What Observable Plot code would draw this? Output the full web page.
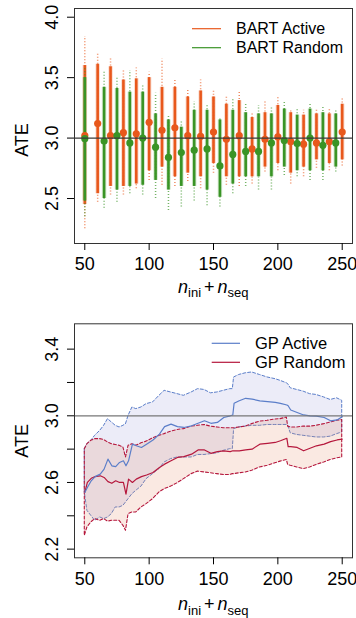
<!DOCTYPE html>
<html><head><meta charset="utf-8">
<script src="https://cdn.jsdelivr.net/npm/d3@7"></script>
<script src="https://cdn.jsdelivr.net/npm/@observablehq/plot@0.6"></script>
<style>
body{margin:0;background:#fff;width:356px;height:618px;overflow:hidden}
#chart svg{display:block}
</style></head><body><div id="chart"></div>
<script>
// ---------- Top panel: BART ----------
const xTicks = [50, 100, 150, 200, 250];
const yTicksTop = [2.5, 3.0, 3.5, 4.0];
const bartActiveX = [50,60,70,80,90,100,110,120,130,140,150,160,170,180,190,200,210,220,230,240,250];
const bartActiveMean = [3.02,3.12,3.02,3.045,3.035,3.13,3.065,3.085,3.02,3.015,3.05,2.99,3.02,2.91,2.99,3.01,2.97,2.95,2.96,2.97,3.05];
const bartActiveTailHi = [3.84,3.71,3.655,3.57,3.58,3.545,3.655,3.48,3.40,3.48,3.39,3.34,3.39,3.21,3.30,3.34,3.24,3.23,3.24,3.24,3.325];
const bartActiveCoreHi = [3.60,3.61,3.59,3.48,3.49,3.50,3.42,3.42,3.34,3.39,3.34,3.28,3.31,3.17,3.21,3.27,3.21,3.19,3.20,3.20,3.28];
const bartActiveCoreLo = [2.45,2.54,2.60,2.60,2.62,2.73,2.76,2.68,2.71,2.68,2.79,2.68,2.68,2.68,2.76,2.79,2.71,2.76,2.82,2.79,2.82];
const bartActiveTailLo = [2.25,2.47,2.53,2.53,2.58,2.65,2.61,2.60,2.64,2.58,2.71,2.61,2.60,2.62,2.72,2.73,2.62,2.68,2.75,2.73,2.77];

const bartRandomX = [50,65,75,85,95,105,115,125,135,145,155,165,175,185,195,205,215,225,235,245];
const bartRandomMean = [2.995,2.975,3.02,2.96,3.00,2.925,2.84,2.88,2.90,2.91,2.77,2.865,2.89,2.89,2.96,2.98,2.955,3.00,2.94,2.96];
const bartRandomTailHi = [3.59,3.545,3.50,3.56,3.435,3.37,3.19,3.15,3.30,3.28,3.17,3.325,3.28,3.27,3.26,3.31,3.24,3.28,3.26,3.23];
const bartRandomCoreHi = [3.50,3.42,3.41,3.38,3.38,3.20,3.15,3.09,3.23,3.23,3.15,3.23,3.21,3.20,3.20,3.24,3.19,3.24,3.21,3.20];
const bartRandomCoreLo = [2.48,2.50,2.57,2.60,2.61,2.65,2.57,2.60,2.60,2.57,2.51,2.62,2.68,2.68,2.68,2.76,2.73,2.73,2.73,2.76];
const bartRandomTailLo = [2.35,2.42,2.47,2.54,2.53,2.50,2.40,2.43,2.48,2.44,2.43,2.54,2.60,2.57,2.57,2.69,2.68,2.65,2.65,2.72];

// ---------- Bottom panel: GP ----------
const yTicksBottom = [2.2, 2.4, 2.6, 2.8, 3.0, 3.2, 3.4];
const yLabelsBottom = [2.2, 2.6, 3.0, 3.4];
const gpX = [50,52,55,58,62,65,68,71,74,77,80,82,84,87,90,94,98,103,108,112,117,122,127,133,138,143,148,153,158,163,165,166,170,175,180,186,192,198,202,207,208,210,215,220,225,230,236,241,246,250];
const gpActiveMean = [2.54,2.57,2.61,2.635,2.65,2.68,2.74,2.70,2.695,2.72,2.73,2.70,2.73,2.83,2.82,2.81,2.83,2.855,2.89,2.935,2.95,2.935,2.93,2.94,2.955,2.97,2.955,2.96,2.99,3.00,3.005,3.075,3.09,3.105,3.10,3.09,3.085,3.08,3.075,3.065,3.06,3.035,3.02,3.005,3.0,2.998,2.99,2.97,2.975,2.995];
const gpActiveUpper = [2.80,2.83,2.85,2.88,2.91,2.94,2.98,2.96,2.94,2.93,2.94,2.95,3.0,3.05,3.04,3.05,3.07,3.08,3.12,3.15,3.14,3.13,3.12,3.14,3.16,3.155,3.135,3.14,3.15,3.16,3.16,3.23,3.245,3.255,3.26,3.245,3.23,3.22,3.21,3.195,3.19,3.165,3.155,3.145,3.13,3.125,3.11,3.095,3.105,3.09];
const gpActiveLower = [2.54,2.43,2.40,2.37,2.39,2.38,2.39,2.41,2.45,2.45,2.46,2.48,2.50,2.53,2.55,2.575,2.62,2.65,2.68,2.72,2.74,2.75,2.75,2.75,2.765,2.765,2.77,2.775,2.79,2.80,2.80,2.92,2.93,2.935,2.94,2.94,2.945,2.945,2.945,2.945,2.94,2.895,2.885,2.88,2.875,2.87,2.87,2.875,2.89,2.90];
const gpRandomMean = [2.54,2.60,2.625,2.635,2.64,2.63,2.605,2.595,2.61,2.60,2.60,2.53,2.62,2.60,2.62,2.635,2.645,2.66,2.69,2.71,2.73,2.75,2.755,2.77,2.795,2.795,2.775,2.785,2.79,2.785,2.79,2.79,2.79,2.795,2.80,2.83,2.835,2.84,2.85,2.865,2.815,2.815,2.81,2.79,2.805,2.82,2.83,2.845,2.855,2.86];
const gpRandomUpper = [2.80,2.83,2.85,2.86,2.86,2.855,2.84,2.83,2.825,2.82,2.81,2.75,2.82,2.83,2.82,2.835,2.845,2.865,2.88,2.89,2.905,2.915,2.92,2.935,2.94,2.945,2.935,2.93,2.925,2.925,2.925,2.925,2.93,2.935,2.95,2.965,2.97,2.978,2.98,2.99,2.935,2.93,2.93,2.935,2.935,2.94,2.95,2.96,2.97,2.975];
const gpRandomLower = [2.28,2.33,2.36,2.38,2.37,2.38,2.365,2.37,2.37,2.37,2.34,2.31,2.41,2.42,2.42,2.45,2.47,2.50,2.54,2.56,2.575,2.595,2.62,2.65,2.665,2.66,2.655,2.65,2.645,2.645,2.65,2.65,2.655,2.66,2.67,2.69,2.70,2.715,2.725,2.735,2.705,2.70,2.69,2.68,2.69,2.705,2.72,2.735,2.745,2.75];

const FONT = '"Liberation Sans", Arial, Helvetica, sans-serif';
const ORANGE = "#e8581c", GREEN = "#3a9426", BLUE = "#5b7ec9", RED = "#b5173c";

const act = bartActiveX.map((x, i) => ({x, mean: bartActiveMean[i], tLo: bartActiveTailLo[i], cLo: bartActiveCoreLo[i], cHi: bartActiveCoreHi[i], tHi: bartActiveTailHi[i]}));
const rnd = bartRandomX.map((x, i) => ({x, mean: bartRandomMean[i], tLo: bartRandomTailLo[i], cLo: bartRandomCoreLo[i], cHi: bartRandomCoreHi[i], tHi: bartRandomTailHi[i]}));
const gp = gpX.map((x, i) => ({x, aM: gpActiveMean[i], aHi: gpActiveUpper[i], aLo: gpActiveLower[i], rM: gpRandomMean[i], rHi: gpRandomUpper[i], rLo: gpRandomLower[i]}));

function cloud(data, color) {
  return [
    Plot.ruleX(data, {x: "x", y1: "tLo", y2: "tHi", stroke: color, strokeWidth: 1.5, strokeDasharray: "1,2", strokeOpacity: 0.7}),
    Plot.ruleX(data, {x: "x", y1: "cLo", y2: "cHi", stroke: color, strokeWidth: 4.5, strokeOpacity: 0.22}),
    Plot.ruleX(data, {x: "x", y1: "cLo", y2: "cHi", stroke: color, strokeWidth: 2.6})
  ];
}
function yLabels(ticks, fmt) {
  return Plot.text(ticks, {y: d => d, text: fmt, frameAnchor: "left", dx: -17, rotate: -90,
    textAnchor: "middle", lineAnchor: "bottom", fontSize: 18, fill: "#000"});
}
function yTitle(dy) {
  return Plot.text(["ATE"], {text: d => d, frameAnchor: "left", dx: -47, dy, rotate: -90,
    textAnchor: "middle", lineAnchor: "bottom", fontSize: 18, fill: "#000"});
}

const style = {fontFamily: FONT, fontSize: "18px", color: "#000", background: "#fff", overflow: "visible"};

const topPlot = Plot.plot({
  width: 356, height: 310, marginLeft: 74, marginRight: 4, marginTop: 8, marginBottom: 67,
  style,
  x: {domain: [42, 258]},
  y: {domain: [2.128, 4.072]},
  marks: [
    ...cloud(act, ORANGE),
    ...cloud(rnd, GREEN),
    Plot.dot(act, {x: "x", y: "mean", r: 3.6, fill: ORANGE}),
    Plot.dot(rnd, {x: "x", y: "mean", r: 3.6, fill: GREEN}),
    Plot.ruleY([3], {stroke: "#3a3a3a", strokeWidth: 1.2}),
    Plot.frame({stroke: "#333"}),
    Plot.axisX({ticks: xTicks, tickSize: 7, tickPadding: 7, label: null, tickFormat: d3.format("d")}),
    Plot.axisY({ticks: yTicksTop, tickSize: 7, label: null, tickFormat: () => ""}),
    yLabels(yTicksTop, d => d.toFixed(1)),
    yTitle(14)
  ]
});

const bottomPlot = Plot.plot({
  width: 356, height: 308, marginLeft: 74, marginRight: 4, marginTop: 13.3, marginBottom: 60.7,
  style,
  x: {domain: [42, 258]},
  y: {domain: [2.148, 3.552]},
  marks: [
    Plot.areaY(gp, {x: "x", y1: "aLo", y2: "aHi", fill: "#6464c8", fillOpacity: 0.12, stroke: BLUE, strokeWidth: 1, strokeDasharray: "3,2"}),
    Plot.areaY(gp, {x: "x", y1: "rLo", y2: "rHi", fill: "#e58f6c", fillOpacity: 0.2, stroke: RED, strokeWidth: 1.1, strokeDasharray: "3,2"}),
    Plot.lineY(gp, {x: "x", y: "rM", stroke: RED, strokeWidth: 1.2}),
    Plot.lineY(gp, {x: "x", y: "aM", stroke: BLUE, strokeWidth: 1.2}),
    Plot.ruleY([3], {stroke: "#777", strokeWidth: 1.3}),
    Plot.frame({stroke: "#333"}),
    Plot.axisX({ticks: xTicks, tickSize: 7, tickPadding: 7, label: null, tickFormat: d3.format("d")}),
    Plot.axisY({ticks: yTicksBottom, tickSize: 7, label: null, tickFormat: () => ""}),
    yLabels(yLabelsBottom, d => d.toFixed(1)),
    yTitle(0)
  ]
});

function addXTitle(svg, y) {
  const t = d3.select(svg).append("text").attr("x", 213.3).attr("y", y)
    .attr("text-anchor", "middle").attr("font-size", 18).attr("font-family", FONT).attr("fill", "#000");
  t.append("tspan").attr("font-style", "italic").text("n");
  t.append("tspan").attr("font-size", 13).attr("dy", 4.5).text("ini");
  t.append("tspan").attr("dy", -4.5).attr("dx", 3).text("+");
  t.append("tspan").attr("font-style", "italic").attr("dx", 3).text("n");
  t.append("tspan").attr("font-size", 13).attr("dy", 4.5).text("seq");
}
function addLegend(svg, items, x1, x2, xt, ys, fs) {
  const g = d3.select(svg).append("g").attr("font-family", FONT).attr("font-size", fs).attr("text-anchor", "start");
  items.forEach((it, i) => {
    g.append("line").attr("x1", x1).attr("x2", x2).attr("y1", ys[i]).attr("y2", ys[i]).attr("stroke", it.color).attr("stroke-width", 1.2);
    g.append("text").attr("x", xt).attr("y", ys[i]).attr("dy", "0.35em").attr("text-anchor", "start").attr("fill", "#000").text(it.label);
  });
}
addXTitle(topPlot, 292.5);
addXTitle(bottomPlot, 300);
addLegend(topPlot, [{label: "BART Active", color: ORANGE}, {label: "BART Random", color: GREEN}], 192, 221, 236, [28.7, 47.7], 16);
addLegend(bottomPlot, [{label: "GP Active", color: BLUE}, {label: "GP Random", color: RED}], 211.7, 240, 255, [33.3, 52.3], 16.5);

document.getElementById("chart").append(topPlot, bottomPlot);
</script></body></html>
